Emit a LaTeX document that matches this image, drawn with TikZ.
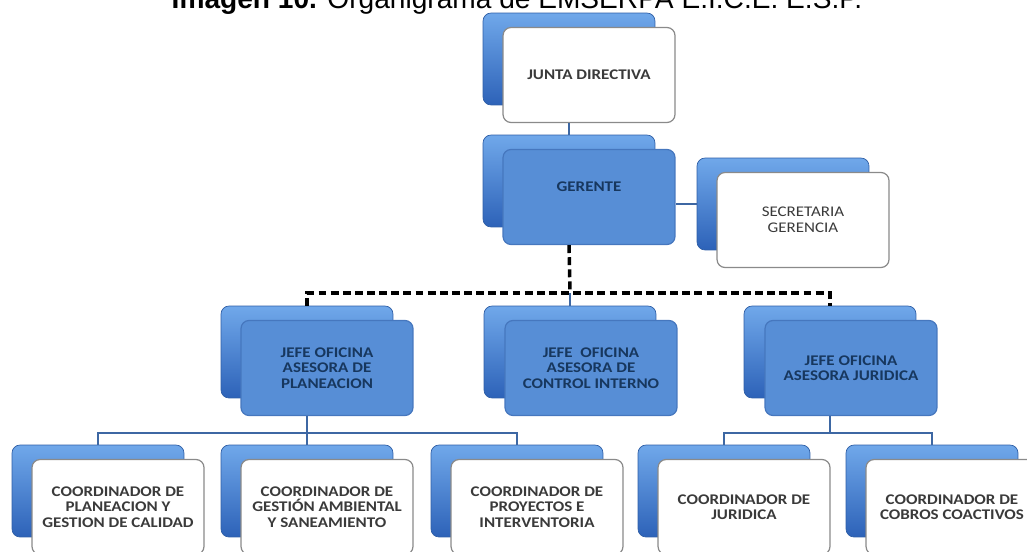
\documentclass[tikz,border=0pt]{standalone}
\usepackage{fontspec}
\setmainfont{Carlito}
\newfontfamily\boxfont[FakeStretch=1.15]{Carlito}
\newfontfamily\titlefont{Liberation Sans}
\definecolor{backtop}{HTML}{70A8EA}
\definecolor{backbot}{HTML}{2D62B8}
\definecolor{backedge}{HTML}{2E5EA6}
\definecolor{frontblue}{HTML}{578ED6}
\definecolor{frontedge}{HTML}{4677BE}
\definecolor{navy}{HTML}{17375E}
\definecolor{boxgray}{HTML}{8A8A8A}
\definecolor{textgray}{HTML}{3A3A3A}
\definecolor{connblue}{HTML}{3D67A3}
\tikzset{
  back/.style={draw=backedge, line width=0.4pt, rounded corners=0.16cm,
    top color=backtop, bottom color=backbot,
    minimum width=3.44cm, minimum height=1.84cm},
  whitebox/.style={draw=boxgray, line width=0.7pt, fill=white, rounded corners=0.16cm,
    minimum width=3.44cm, minimum height=1.9cm, align=center, text=textgray,
    font=\boxfont\bfseries\fontsize{8.4}{8.7}\selectfont},
  bluebox/.style={whitebox, draw=frontedge, fill=frontblue, text=navy},
  conn/.style={draw=connblue, line width=1.6pt},
  dashconn/.style={draw=black, line width=2pt, dash pattern=on 4.5pt off 2.4pt},
}
\begin{document}
\begin{tikzpicture}[x=0.02cm, y=-0.02cm]
        \clip (0,0) rectangle (1027,551);
        \node[anchor=base, font=\titlefont\fontsize{16}{18}\selectfont] (title) at (517,9)
            {\textbf{Imagen 10.} Organigrama de EMSERPA E.I.C.E. E.S.P.};
        % top of the chart
        \node[back] (junta-b) at (569,59) {};
        \node[whitebox] (junta) at (589,75) {JUNTA DIRECTIVA};
        \node[back] (gerente-b) at (569,181) {};
        \node[bluebox] (gerente) at (589,197) {GERENTE\\[3pt]\mbox{}};
        \node[back] (secretaria-b) at (783,204) {};
        \node[whitebox, font=\boxfont\fontsize{8.4}{8.9}\selectfont] (secretaria) at (803,220) {SECRETARIA\\GERENCIA};
        % asesores
        \node[back] (planeacion-b) at (307,352) {};
        \node[bluebox] (planeacion) at (327,368) {JEFE OFICINA\\ASESORA DE\\PLANEACION};
        \node[back] (control-b) at (570,352) {};
        \node[bluebox] (control) at (591,368) {JEFE\ \ OFICINA\\ASESORA DE\\CONTROL INTERNO};
        \node[back] (juridica-b) at (830,352) {};
        \node[bluebox] (juridica) at (851,368) {JEFE OFICINA\\ASESORA JURIDICA};
        % coordinadores
        \node[back] (c1-b) at (98,491) {};
        \node[whitebox] (c1) at (118,507) {COORDINADOR DE\\PLANEACION Y\\GESTION DE CALIDAD};
        \node[back] (c2-b) at (307,491) {};
        \node[whitebox] (c2) at (327,507) {COORDINADOR DE\\GESTIÓN AMBIENTAL\\Y SANEAMIENTO};
        \node[back] (c3-b) at (517,491) {};
        \node[whitebox] (c3) at (537,507) {COORDINADOR DE\\PROYECTOS E\\INTERVENTORIA};
        \node[back] (c4-b) at (724,491) {};
        \node[whitebox] (c4) at (744,507) {COORDINADOR DE\\JURIDICA};
        \node[back] (c5-b) at (932,491) {};
        \node[whitebox] (c5) at (952,507) {COORDINADOR DE\\COBROS COACTIVOS};
        % lines
        \coordinate (split) at (570,293);
        \coordinate (pbus) at (307,433);
        \coordinate (jbus) at (830,433);
        \draw[conn] (junta-b |- junta.south) -- (gerente-b.north);
        \draw[conn] (secretaria-b.west) -- (secretaria-b.west -| gerente.east);
        \draw[dashconn] (gerente-b |- gerente.south) -- (split);
        \draw[dashconn] (planeacion-b.north) |- (split) -| (juridica-b.north);
        \draw[conn] (split) -- (control-b.north);
        \draw[conn] (planeacion-b |- planeacion.south) -- (pbus);
        \draw[conn] (c1-b.north) |- (pbus) -| (c3-b.north);
        \draw[conn] (pbus) -- (c2-b.north);
        \draw[conn] (juridica-b |- juridica.south) -- (jbus);
        \draw[conn] (c4-b.north) |- (jbus) -| (c5-b.north);
    \end{tikzpicture}
\end{document}
